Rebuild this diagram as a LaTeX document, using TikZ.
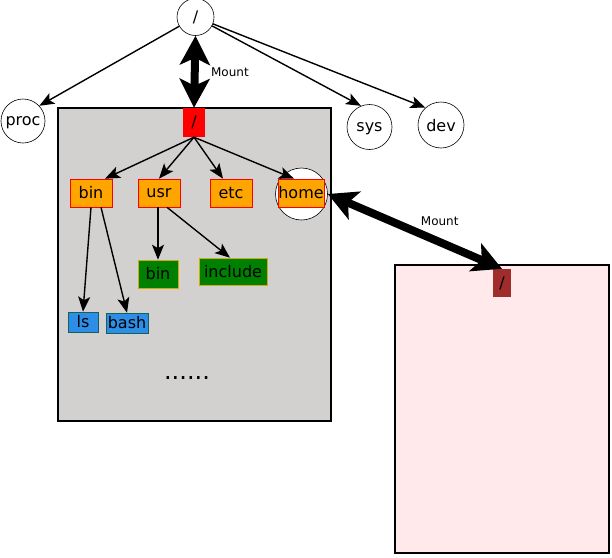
\documentclass[tikz,border=0pt]{standalone}
\usepackage{fontspec}
\setmainfont{DejaVu Sans}
\usetikzlibrary{arrows.meta}

\definecolor{fsgray}{RGB}{211,208,208}
\definecolor{fspink}{RGB}{255,233,234}
\definecolor{dirorange}{RGB}{255,165,0}
\definecolor{dirgreen}{RGB}{0,128,0}
\definecolor{greenedge}{RGB}{212,170,0}
\definecolor{fileblue}{RGB}{44,142,230}
\definecolor{blueedge}{RGB}{22,96,90}
\definecolor{mountred}{RGB}{160,44,44}

\begin{document}
\begin{tikzpicture}[x=1pt, y=-1pt,
    fsnode/.style={draw, circle, line width=0.6pt, fill=white, inner sep=0pt,
                   text depth=0pt, font=\fontsize{16}{18}\selectfont},
    dirbox/.style={draw=red, line width=0.6pt, fill=dirorange, inner sep=0pt,
                   minimum width=42pt, minimum height=28pt,
                   font=\fontsize{16}{18}\selectfont},
    subbox/.style={draw=greenedge, line width=0.6pt, fill=dirgreen, inner sep=0pt,
                   minimum height=27pt, font=\fontsize{16}{18}\selectfont},
    filebox/.style={draw=blueedge, line width=0.6pt, fill=fileblue, inner sep=0pt,
                    minimum height=20pt, font=\fontsize{16}{18}\selectfont},
    flow/.style={-{Stealth[length=15pt, width=12pt, inset=3.5pt]}, line width=1.4pt},
    mountflow/.style={{Stealth[length=29pt, width=30pt, inset=7pt]}-{Stealth[length=29pt, width=30pt, inset=7pt]},
                      line width=8pt},
    note/.style={font=\fontsize{12}{14}\selectfont},
]
    \useasboundingbox (0,0) rectangle (612,557);

    % the two file systems
    \draw[line width=2pt, fill=fsgray] (58,108) rectangle (331,421);
    \draw[line width=2pt, fill=fspink] (395,265) rectangle (609,553);

    % top level
    \node[fsnode, minimum size=37pt] (root) at (195.5,17) {/};
    \node[fsnode, minimum size=44pt] (proc) at (23,121) {proc};
    \node[fsnode, minimum size=45pt] (sys) at (369.5,127) {sys};
    \node[fsnode, minimum size=46pt] (dev) at (441,125) {dev};
    \draw[flow] (root) -- (proc.43);
    \draw[flow] (root) -- (sys.112);
    \draw[flow] (root) -- (dev.132);

    % mounted root file system
    \node[fill=red, inner sep=0pt, minimum width=22pt, minimum height=29pt,
          font=\fontsize{16}{18}\selectfont] (rootdir) at (194,122.5) {/};
    \draw[mountflow] (root.south) -- node[right, note, xshift=9pt] {Mount} (rootdir.north);

    \node[fsnode, minimum size=52pt] (homering) at (301.5,194) {};
    \node[dirbox] (bin) at (91,193) {bin};
    \node[dirbox] (usr) at (159,193) {usr};
    \node[dirbox] (etc) at (231,193) {etc};
    \node[dirbox, minimum width=46pt] (home) at (301,193) {home};
    \draw[flow] (rootdir.south) -- ([xshift=14pt]bin.north);
    \draw[flow] (rootdir.south) -- (usr.north);
    \draw[flow] (rootdir.south) -- ([xshift=-8pt]etc.north);
    \draw[flow] (rootdir.south) -- ([xshift=-7pt]home.north);

    \node[subbox, minimum width=40pt, minimum height=28pt] (usrbin) at (158,274) {bin};
    \node[subbox, minimum width=68pt] (include) at (233,271.5) {include};
    \draw[flow] (usrbin.north |- usr.south) -- (usrbin.north);
    \draw[flow] ([xshift=8pt]usr.south) -- ([xshift=-3pt]include.north);

    \node[filebox, minimum width=30pt] (ls) at (83,322) {ls};
    \node[filebox, minimum width=42pt] (bash) at (127,323) {bash};
    \draw[flow] (bin.south) -- (ls.north);
    \draw[flow] ([xshift=10pt]bin.south) -- (bash.north);

    \node[font=\fontsize{24}{26}\selectfont] (more) at (187,378) {......};

    % second file system mounted on home
    \node[fill=mountred, inner sep=0pt, minimum width=18pt, minimum height=28pt,
          font=\fontsize{16}{18}\selectfont] (newroot) at (502,283) {/};
    \draw[mountflow] (homering.east) -- node[above right, note, inner sep=2pt] {Mount} (newroot.north);
\end{tikzpicture}
\end{document}
